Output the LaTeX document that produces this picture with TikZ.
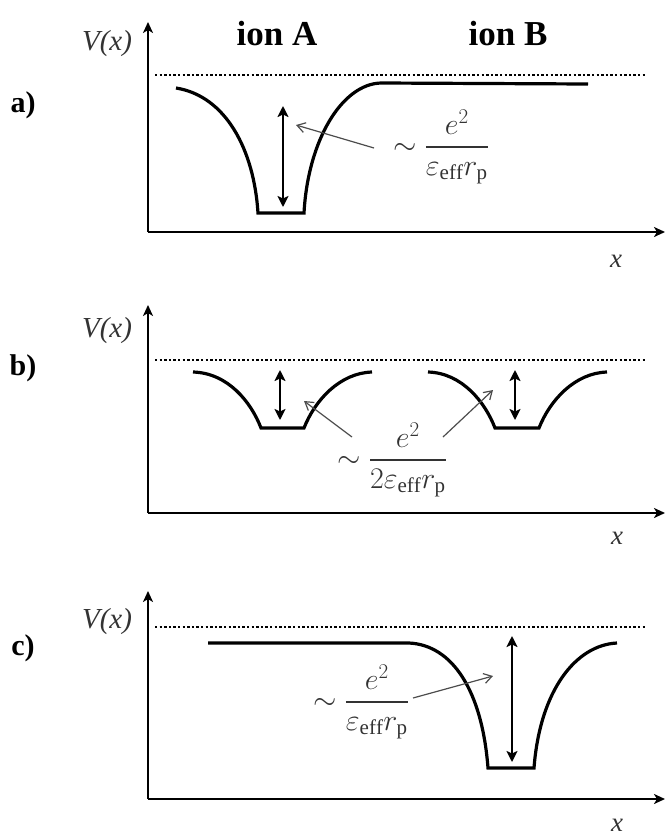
\RequirePackage{fix-cm}
\documentclass[tikz,border=0pt]{standalone}
\usepackage{amsmath,amssymb}
\usepackage{fontspec}
\setmainfont{Liberation Serif}
\usetikzlibrary{arrows.meta}
\tikzset{
  axis/.style={
    line width=2.4pt,
    -{Stealth[length=11pt,width=10pt,inset=3pt]}
  },
  level/.style={
    line width=2.8pt,
    dash pattern=on 2.4pt off 2.2pt
  },
  well/.style={
    line width=3.2pt,
    line join=miter
  },
  depth/.style={
    line width=2pt,
    {Stealth[length=11pt,width=11pt,inset=2.5pt]}-{Stealth[length=11pt,width=11pt,inset=2.5pt]}
  },
  pointer/.style={
    line width=1.2pt,
    draw=black!70,
    -{Straight Barb[length=8pt,width=10pt]}
  },
  ion/.style={
    anchor=base,
    font=\bfseries\fontsize{35}{35}\selectfont
  },
  panel/.style={
    font=\bfseries\fontsize{30}{30}\selectfont
  },
  vlab/.style={
    text=black!80,
    font=\itshape\fontsize{29}{29}\selectfont
  },
  xlab/.style={
    text=black!80,
    font=\itshape\fontsize{27}{27}\selectfont
  },
  frac/.style={
    text=black!80,
    font=\fontsize{30}{30}\selectfont
  }
}

\begin{document}
\begin{tikzpicture}[x=1pt,y=-1pt]
        \useasboundingbox (0,0) rectangle (665,836);
        % a)
        \node[panel] (la) at (23,105) {a)};
        \node[ion] (ionA) at (277,45) {ion A};
        \node[ion] (ionB) at (508,45) {ion B};
        \node[vlab] (va) at (107,44) {V(x)};
        \node[xlab] (xa) at (616,261) {x};
        \coordinate (oa) at (148,232);
        \draw[axis] (oa) -- (148,22);
        \draw[axis] (oa) -- (665,232);
        \draw[level] (155,75) -- (645,75);
        \draw[well] (176,88) .. controls (226,96) and (254,150) .. (258,213)
          -- (304,213) .. controls (308,140) and (342,84) .. (381,83) -- (588,84);
        \draw[depth] (283,106) -- (283,207);
        \node[frac] (fa) at (441,147) {$\sim\dfrac{e^2}{\varepsilon_{\mathrm{eff}}r_{\mathrm{p}}}$};
        \coordinate (sa) at (374,148);
        \coordinate (pa) at (296,125);
        \draw[pointer] (sa) -- (pa);
        % b)
        \node[panel] (lb) at (23,368) {b)};
        \node[vlab] (vb) at (107,331) {V(x)};
        \node[xlab] (xb) at (617,538) {x};
        \coordinate (ob) at (148,513);
        \draw[axis] (ob) -- (148,305);
        \draw[axis] (ob) -- (665,513);
        \draw[level] (155,360) -- (645,360);
        \draw[well] (193,372) .. controls (228,373) and (251,402) .. (261,428)
          -- (304,428) .. controls (315,400) and (340,373) .. (372,372);
        \draw[well] (428,372) .. controls (462,373) and (485,402) .. (495,428)
          -- (539,428) .. controls (550,400) and (575,373) .. (607,372);
        \draw[depth] (280,370) -- (280,420);
        \draw[depth] (515,370) -- (515,420);
        \node[frac] (fb) at (392,460) {$\sim\dfrac{e^2}{2\varepsilon_{\mathrm{eff}}r_{\mathrm{p}}}$};
        \coordinate (sb1) at (352,437);
        \coordinate (pb1) at (304,401);
        \coordinate (sb2) at (443,437);
        \coordinate (pb2) at (493,390);
        \draw[pointer] (sb1) -- (pb1);
        \draw[pointer] (sb2) -- (pb2);
        % c)
        \node[panel] (lc) at (23,648) {c)};
        \node[vlab] (vc) at (107,622) {V(x)};
        \node[xlab] (xc) at (617,825) {x};
        \coordinate (oc) at (148,799);
        \draw[axis] (oc) -- (148,591);
        \draw[axis] (oc) -- (665,799);
        \draw[level] (155,627) -- (645,627);
        \draw[well] (208,643) -- (409,643) .. controls (452,645) and (482,690) .. (488,768)
          -- (534,768) .. controls (540,690) and (576,645) .. (617,643);
        \draw[depth] (512,636) -- (512,762);
        \node[frac] (fc) at (361,702) {$\sim\dfrac{e^2}{\varepsilon_{\mathrm{eff}}r_{\mathrm{p}}}$};
        \coordinate (sc) at (413,698);
        \coordinate (pc) at (493,676);
        \draw[pointer] (sc) -- (pc);
\end{tikzpicture}
\end{document}
